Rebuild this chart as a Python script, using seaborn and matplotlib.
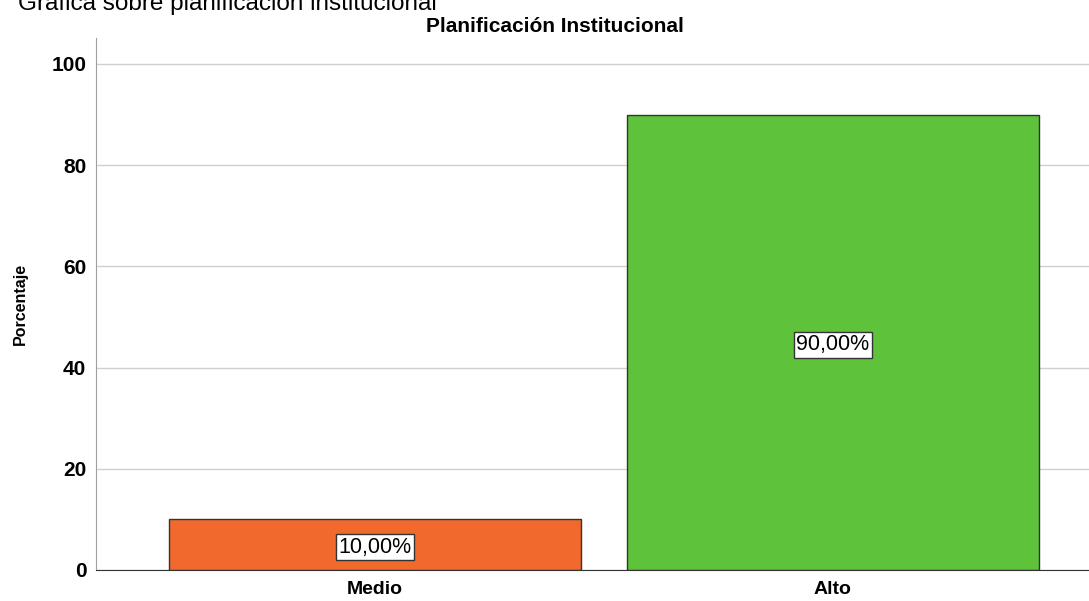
import matplotlib
matplotlib.use('Agg')
import matplotlib.pyplot as plt
import seaborn as sns
import pandas as pd

# Data
categorias = ['Medio', 'Alto']
porcentajes = [10.0, 90.0]
etiquetas = ['10,00%', '90,00%']
colores = ['#F2692E', '#5EC33A']

sns.set_style('whitegrid')
plt.rcParams['font.family'] = ['Liberation Sans', 'DejaVu Sans']
plt.rcParams['text.color'] = 'black'
plt.rcParams['axes.labelcolor'] = 'black'
plt.rcParams['xtick.color'] = 'black'
plt.rcParams['ytick.color'] = 'black'

df = pd.DataFrame({'categoria': categorias, 'porcentaje': porcentajes})

fig = plt.figure(figsize=(10.89, 6.01), dpi=100)
ax = fig.add_axes([0.0882, 0.0516, 0.9118, 0.885])

sns.barplot(data=df, x='categoria', y='porcentaje', hue='categoria',
            palette=colores, width=0.9, edgecolor='#333333', linewidth=1,
            saturation=1, legend=False, ax=ax)

# value labels in white boxes at the middle of each bar
for i, (v, lab) in enumerate(zip(porcentajes, etiquetas)):
    ax.text(i, v / 2 - 0.5, lab, ha='center', va='center', fontsize=15.5,
            bbox=dict(boxstyle='square,pad=0.12', facecolor='white',
                      edgecolor='#333333', linewidth=1))

ax.set_ylim(0, 105.1)
ax.set_xlim(-0.61, 1.56)
ax.set_yticks([0, 20, 40, 60, 80, 100])
ax.tick_params(axis='y', labelsize=15, length=0, pad=7)
ax.tick_params(axis='x', labelsize=14, length=0, pad=8)
for t in ax.get_xticklabels() + ax.get_yticklabels():
    t.set_fontweight('bold')
ax.grid(axis='x', visible=False)
ax.grid(axis='y', color='#d0d0d0', linewidth=1)
ax.set_axisbelow(True)

ax.set_xlabel('')
ax.set_ylabel('Porcentaje', fontsize=11.5, fontweight='bold', labelpad=17)

for s in ['top', 'right']:
    ax.spines[s].set_visible(False)
ax.spines['left'].set_color('#a0a0a0')
ax.spines['bottom'].set_color('#333333')

fig.text(555 / 1089, 1 - 26 / 601, 'Planificación Institucional',
         ha='center', va='center', fontsize=15, fontweight='bold')
fig.text(18 / 1089, 1 - 4 / 601, 'Gráfica sobre planificación institucional',
         ha='left', va='center', fontsize=17.5)

fig.savefig('out.png', dpi=100)
